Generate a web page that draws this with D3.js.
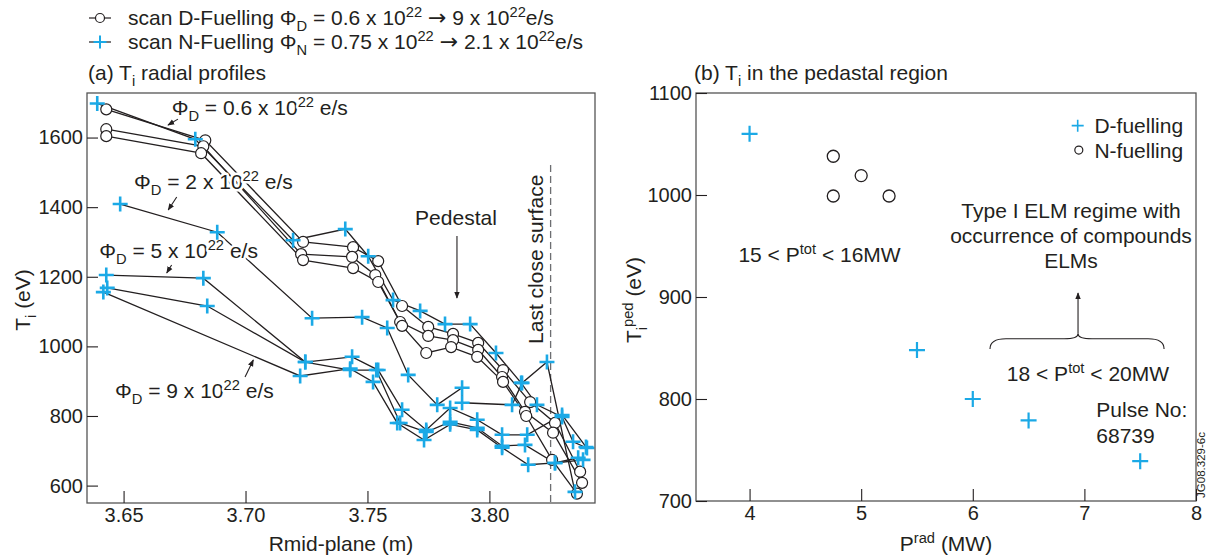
<!DOCTYPE html>
<html>
<head>
<meta charset="utf-8">
<script src="https://cdn.jsdelivr.net/npm/d3@7"></script>
<style>
  body { margin: 0; background: #fff; }
  text { font-family: "Liberation Sans", Arial, sans-serif; fill: #231f20; }
</style>
</head>
<body>
<svg id="chart"></svg>
<script>
// svg size
const viewWidth = 1211;
const viewHeight = 560;

// (a) Ti radial profiles, [Rmid (m), Ti (eV)]
// open circle profiles
const circleProfile1 = [[3.6429,1681],[3.6835,1592],[3.7236,1300],[3.7441,1285],[3.7544,1245],[3.7642,1116],[3.7749,1056],[3.7851,1036],[3.7954,1010],[3.8056,932],[3.8167,840],[3.8269,780],[3.8372,640]];
const circleProfile2 = [[3.6429,1624],[3.6827,1575],[3.7228,1265],[3.7437,1257],[3.7532,1205],[3.7634,1070],[3.7749,1030],[3.7851,1018],[3.7954,990],[3.8052,912],[3.8146,812],[3.8261,752],[3.8380,608]];
const circleProfile3 = [[3.6429,1604],[3.6818,1555],[3.7236,1248],[3.7441,1225],[3.7544,1185],[3.7642,1059],[3.7741,981],[3.7843,998],[3.7950,970],[3.8056,898],[3.8151,800],[3.8257,674],[3.8359,577]];
// cross profiles
const crossProfile1 = [[3.6392,1698],[3.6794,1595],[3.7195,1305],[3.7409,1337],[3.7503,1259],[3.7605,1133],[3.7716,1102],[3.7818,1064],[3.7921,1064],[3.8027,981],[3.8130,895],[3.8195,832],[3.8298,797],[3.8343,726],[3.8400,708]];
const crossProfile2 = [[3.6486,1409],[3.6884,1328],[3.7273,1081],[3.7478,1084],[3.7581,1053],[3.7667,918],[3.7786,832],[3.7888,881],[3.7888,838],[3.8093,832],[3.8134,895],[3.8236,955],[3.8351,582]];
const crossProfile3 = [[3.6429,1205],[3.6827,1196],[3.7245,955],[3.7437,970],[3.7544,932],[3.7642,818],[3.7741,760],[3.7839,823],[3.7950,789],[3.8052,746],[3.8155,746],[3.8298,803],[3.8396,711]];
const crossProfile4 = [[3.6433,1168],[3.6843,1116],[3.7245,955],[3.7429,932],[3.7536,932],[3.7634,780],[3.7741,754],[3.7839,783],[3.7950,766],[3.8052,714],[3.8146,717],[3.8269,665],[3.8384,674]];
const crossProfile5 = [[3.6417,1156],[3.7224,915],[3.7429,936],[3.7523,898],[3.7622,780],[3.7732,731],[3.7839,776],[3.7950,760],[3.8052,709],[3.8159,660],[3.8269,665],[3.8364,680]];

const circleProfiles = [circleProfile1, circleProfile2, circleProfile3];
const crossProfiles = [crossProfile1, crossProfile2, crossProfile3, crossProfile4, crossProfile5];

// (b) pedestal Ti vs Prad
const pradD = [4, 5.5, 6, 6.5, 7.5];
const tpedD = [1060, 848, 800, 779, 739];
const pradN = [4.75, 4.75, 5, 5.25];
const tpedN = [1038, 999, 1019, 999];

// tick labels
const leftXTicks = [3.65, 3.70, 3.75, 3.80];
const leftYTicks = [600, 800, 1000, 1200, 1400, 1600];
const rightXTicks = [4, 5, 6, 7, 8];
const rightYTicks = [700, 800, 900, 1000, 1100];

const blue = "#1ba9e6";
const ink = "#231f20";
const fs = 21;

const svg = d3.select("#chart")
    .attr("width", viewWidth)
    .attr("height", viewHeight);

svg.append("rect").attr("width", viewWidth).attr("height", viewHeight).attr("fill", "#fff");

// arrow head
svg.append("defs").append("marker")
    .attr("id", "arrow")
    .attr("viewBox", "0 0 10 10")
    .attr("refX", 9).attr("refY", 5)
    .attr("markerWidth", 7).attr("markerHeight", 7)
    .attr("markerUnits", "userSpaceOnUse")
    .attr("orient", "auto")
    .append("path")
    .attr("d", "M0,1L10,5L0,9Z")
    .attr("fill", ink);

// text with sub / sup parts
function rich(sel, parts, size) {
    let shift = 0;
    parts.forEach(p => {
        const target = p[1] === "sub" ? size * 0.3 : p[1] === "sup" ? -size * 0.38 : 0;
        const ts = sel.append("tspan").attr("dy", target - shift).text(p[0]);
        if (p[1] === "sub" || p[1] === "sup") ts.attr("font-size", size * 0.7);
        if (p[1] === "arrow") ts.attr("font-family", "DejaVu Sans").attr("font-size", size * 1.05);
        shift = target;
    });
    return sel;
}

function crossPath(s) {
    return `M${-s},0H${s}M0,${-s}V${s}`;
}

// ---------- legend at top ----------
const legend = svg.append("g");
legend.append("line").attr("x1", 89).attr("x2", 111).attr("y1", 18).attr("y2", 18).attr("stroke", ink).attr("stroke-width", 1.2);
legend.append("circle").attr("cx", 100).attr("cy", 18).attr("r", 4.5).attr("fill", "#fff").attr("stroke", ink).attr("stroke-width", 1.2);
rich(legend.append("text").attr("x", 128).attr("y", 25).attr("font-size", fs),
    [["scan D-Fuelling \u03A6"], ["D", "sub"], [" = 0.6 x 10"], ["22", "sup"], [" "], ["\u2192", "arrow"], [" 9 x 10"], ["22", "sup"], ["e/s"]], fs);
legend.append("line").attr("x1", 89).attr("x2", 111).attr("y1", 42).attr("y2", 42).attr("stroke", ink).attr("stroke-width", 1.2);
legend.append("path").attr("d", crossPath(6.5)).attr("transform", "translate(100,42)").attr("stroke", blue).attr("stroke-width", 2);
rich(legend.append("text").attr("x", 128).attr("y", 49).attr("font-size", fs),
    [["scan N-Fuelling \u03A6"], ["N", "sub"], [" = 0.75 x 10"], ["22", "sup"], [" "], ["\u2192", "arrow"], [" 2.1 x 10"], ["22", "sup"], ["e/s"]], fs);

// ---------- panel (a) ----------
const xL = d3.scaleLinear().domain([3.635, 3.8433]).range([87, 595]);
const yL = d3.scaleLinear().domain([550, 1728]).range([503, 93]);

const panelA = svg.append("g");

rich(panelA.append("text").attr("x", 88).attr("y", 80).attr("font-size", fs),
    [["(a) T"], ["i", "sub"], [" radial profiles"]], fs);

// dashed last closed surface
panelA.append("line")
    .attr("x1", xL(3.8251)).attr("x2", xL(3.8251))
    .attr("y1", yL(1521)).attr("y2", yL(550))
    .attr("stroke", "#6d6e71").attr("stroke-width", 1.3)
    .attr("stroke-dasharray", "7,4");

panelA.append("text")
    .attr("transform", `translate(${xL(3.8220)},${yL(1007)}) rotate(-90)`)
    .attr("font-size", fs)
    .text("Last close surface");

const lineL = d3.line().x(d => xL(d[0])).y(d => yL(d[1]));

// profile lines
panelA.selectAll("path.cline")
    .data(circleProfiles.concat(crossProfiles))
    .enter()
    .append("path")
    .attr("class", "cline")
    .attr("d", lineL)
    .attr("fill", "none")
    .attr("stroke", ink)
    .attr("stroke-width", 1.3);

// annotations with white halo
function label(g, x, y, parts, size) {
    const t = g.append("text").attr("x", x).attr("y", y).attr("font-size", size)
        .attr("stroke", "#fff").attr("stroke-width", 5).attr("paint-order", "stroke")
        .attr("stroke-linejoin", "round");
    return rich(t, parts, size);
}
label(panelA, xL(3.6697), yL(1665), [["\u03A6"], ["D", "sub"], [" = 0.6 x 10"], ["22", "sup"], [" e/s"]], fs);
label(panelA, xL(3.6543), yL(1452), [["\u03A6"], ["D", "sub"], [" = 2 x 10"], ["22", "sup"], [" e/s"]], fs);
label(panelA, xL(3.6400), yL(1254), [["\u03A6"], ["D", "sub"], [" = 5 x 10"], ["22", "sup"], [" e/s"]], fs);
label(panelA, xL(3.6465), yL(852), [["\u03A6"], ["D", "sub"], [" = 9 x 10"], ["22", "sup"], [" e/s"]], fs);

panelA.append("text")
    .attr("x", xL(3.7863)).attr("y", yL(1349))
    .attr("text-anchor", "middle").attr("font-size", fs)
    .text("Pedestal");

const arrowsA = [
    [3.6723, 1653, 3.6682, 1636],
    [3.6718, 1429, 3.6683, 1392],
    [3.6697, 1234, 3.6677, 1211],
    [3.6998, 912, 3.7032, 961],
    [3.7867, 1317, 3.7867, 1139]
];
panelA.selectAll("line.arr")
    .data(arrowsA)
    .enter()
    .append("line")
    .attr("class", "arr")
    .attr("x1", d => xL(d[0])).attr("y1", d => yL(d[1]))
    .attr("x2", d => xL(d[2])).attr("y2", d => yL(d[3]))
    .attr("stroke", ink).attr("stroke-width", 1.1)
    .attr("marker-end", "url(#arrow)");

// markers
panelA.selectAll("g.cset")
    .data(circleProfiles)
    .enter()
    .append("g")
    .selectAll("circle")
    .data(d => d)
    .enter()
    .append("circle")
    .attr("cx", d => xL(d[0]))
    .attr("cy", d => yL(d[1]))
    .attr("r", 5.5)
    .attr("fill", "#fff")
    .attr("stroke", ink)
    .attr("stroke-width", 1.2);

panelA.selectAll("g.xset")
    .data(crossProfiles)
    .enter()
    .append("g")
    .selectAll("path")
    .data(d => d)
    .enter()
    .append("path")
    .attr("d", crossPath(7.5))
    .attr("transform", d => `translate(${xL(d[0])},${yL(d[1])})`)
    .attr("stroke", blue)
    .attr("stroke-width", 2.6);

// frame and axes
panelA.append("rect")
    .attr("x", 87).attr("y", 93).attr("width", 508).attr("height", 410)
    .attr("fill", "none").attr("stroke", "#555").attr("stroke-width", 1.3);

const axA = panelA.append("g").attr("transform", "translate(0,503)")
    .call(d3.axisBottom(xL).tickValues(leftXTicks).tickFormat(d3.format(".2f")).tickSizeInner(-12).tickSizeOuter(0).tickPadding(5));
const ayA = panelA.append("g").attr("transform", "translate(87,0)")
    .call(d3.axisLeft(yL).tickValues(leftYTicks).tickFormat(d3.format("d")).tickSizeInner(-11).tickSizeOuter(0).tickPadding(4));
[axA, ayA].forEach(a => {
    a.select(".domain").remove();
    a.selectAll("line").attr("stroke", ink).attr("stroke-width", 1.1);
    a.selectAll("text").attr("font-size", 20).attr("font-family", "Liberation Sans, Arial, sans-serif").attr("fill", ink);
});

panelA.append("text")
    .attr("x", (87 + 595) / 2).attr("y", 551)
    .attr("text-anchor", "middle").attr("font-size", fs)
    .text("Rmid-plane (m)");
rich(panelA.append("text")
    .attr("transform", "translate(30,300) rotate(-90)")
    .attr("text-anchor", "middle").attr("font-size", fs),
    [["T"], ["i", "sub"], [" (eV)"]], fs);

// ---------- panel (b) ----------
const xR = d3.scaleLinear().domain([3.52, 8]).range([696, 1196]);
const yR = d3.scaleLinear().domain([700, 1100]).range([501, 93]);

const panelB = svg.append("g");

rich(panelB.append("text").attr("x", 694).attr("y", 80).attr("font-size", fs),
    [["(b) T"], ["i", "sub"], [" in the pedastal region"]], fs);

// data points
panelB.selectAll("path.dpt")
    .data(pradD.map((p, i) => [p, tpedD[i]]))
    .enter()
    .append("path")
    .attr("class", "dpt")
    .attr("d", crossPath(8))
    .attr("transform", d => `translate(${xR(d[0])},${yR(d[1])})`)
    .attr("stroke", blue)
    .attr("stroke-width", 2.2);

panelB.selectAll("circle.npt")
    .data(pradN.map((p, i) => [p, tpedN[i]]))
    .enter()
    .append("circle")
    .attr("class", "npt")
    .attr("cx", d => xR(d[0]))
    .attr("cy", d => yR(d[1]))
    .attr("r", 6)
    .attr("fill", "#fff")
    .attr("stroke", ink)
    .attr("stroke-width", 1.3);

// legend
panelB.append("path").attr("d", crossPath(6)).attr("transform", `translate(${xR(6.94)},${yR(1068)})`).attr("stroke", blue).attr("stroke-width", 1.6);
panelB.append("text").attr("x", xR(7.09)).attr("y", yR(1061)).attr("font-size", fs).text("D-fuelling");
panelB.append("circle").attr("cx", xR(6.95)).attr("cy", yR(1044)).attr("r", 4).attr("fill", "#fff").attr("stroke", ink).attr("stroke-width", 1.2);
panelB.append("text").attr("x", xR(7.09)).attr("y", yR(1036)).attr("font-size", fs).text("N-fuelling");

// annotations
rich(panelB.append("text").attr("x", xR(3.90)).attr("y", yR(934)).attr("font-size", fs),
    [["15 < P"], ["tot", "sup"], [" < 16MW"]], fs);

const elmLines = ["Type I ELM regime with", "occurrence of compounds", "ELMs"];
const elmY = [977, 953, 928];
panelB.selectAll("text.elm")
    .data(elmLines)
    .enter()
    .append("text")
    .attr("class", "elm")
    .attr("x", xR(6.88))
    .attr("y", (d, i) => yR(elmY[i]))
    .attr("text-anchor", "middle")
    .attr("font-size", fs)
    .text(d => d);

// brace
const bx0 = xR(6.154), bx1 = xR(7.714), bxm = xR(6.943);
const byEnd = yR(849), byTop = yR(859), byPeak = yR(864);
panelB.append("path")
    .attr("d", `M${bx0},${byEnd}Q${bx0},${byTop} ${bx0 + 16},${byTop}L${bxm - 14},${byTop}Q${bxm},${byTop} ${bxm},${byPeak}Q${bxm},${byTop} ${bxm + 14},${byTop}L${bx1 - 16},${byTop}Q${bx1},${byTop} ${bx1},${byEnd}`)
    .attr("fill", "none").attr("stroke", ink).attr("stroke-width", 1.1);
panelB.append("line")
    .attr("x1", bxm).attr("x2", bxm).attr("y1", byPeak).attr("y2", yR(904))
    .attr("stroke", ink).attr("stroke-width", 1.1)
    .attr("marker-end", "url(#arrow)");

rich(panelB.append("text").attr("x", xR(6.305)).attr("y", yR(818)).attr("font-size", fs),
    [["18 < P"], ["tot", "sup"], [" < 20MW"]], fs);
panelB.append("text").attr("x", xR(7.107)).attr("y", yR(782)).attr("font-size", fs).text("Pulse No:");
panelB.append("text").attr("x", xR(7.107)).attr("y", yR(757)).attr("font-size", fs).text("68739");

panelB.append("text")
    .attr("transform", `translate(${xR(8.085)},${yR(703)}) rotate(-90)`)
    .attr("font-size", 11.5)
    .text("JG08.329-6c");

// frame and axes
panelB.append("rect")
    .attr("x", 696).attr("y", 93).attr("width", 500).attr("height", 408)
    .attr("fill", "none").attr("stroke", "#555").attr("stroke-width", 1.3);

const axB = panelB.append("g").attr("transform", "translate(0,501)")
    .call(d3.axisBottom(xR).tickValues(rightXTicks).tickFormat(d3.format("d")).tickSizeInner(-12).tickSizeOuter(0).tickPadding(5));
const ayB = panelB.append("g").attr("transform", "translate(696,0)")
    .call(d3.axisLeft(yR).tickValues(rightYTicks).tickFormat(d3.format("d")).tickSizeInner(-11).tickSizeOuter(0).tickPadding(4));
[axB, ayB].forEach(a => {
    a.select(".domain").remove();
    a.selectAll("line").attr("stroke", ink).attr("stroke-width", 1.1);
    a.selectAll("text").attr("font-size", 20).attr("font-family", "Liberation Sans, Arial, sans-serif").attr("fill", ink);
});

rich(panelB.append("text")
    .attr("x", 946).attr("y", 551)
    .attr("text-anchor", "middle").attr("font-size", fs),
    [["P"], ["rad", "sup"], [" (MW)"]], fs);
rich(panelB.append("text")
    .attr("transform", "translate(641,300) rotate(-90)")
    .attr("text-anchor", "middle").attr("font-size", fs),
    [["T"], ["i", "sub"], ["ped", "sup"], [" (eV)"]], fs);
</script>
</body>
</html>
